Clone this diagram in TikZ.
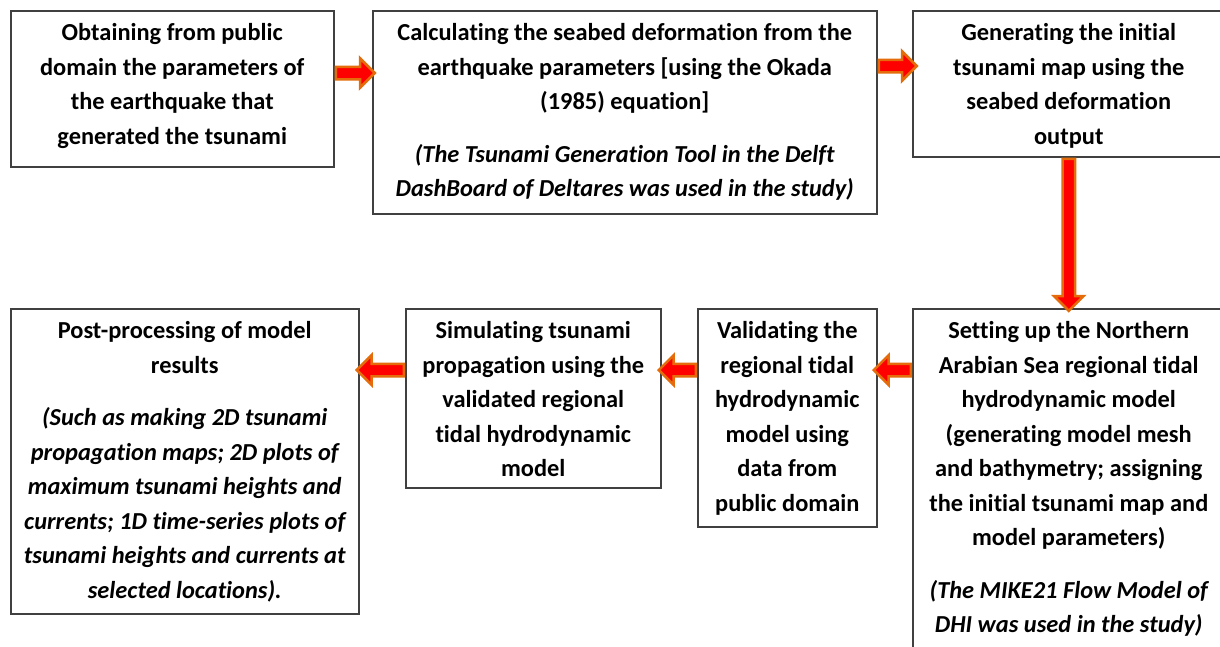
\documentclass[tikz,border=0pt]{standalone}
\usepackage{fontspec}
\setmainfont{Carlito}[Ligatures=CommonOff]
\usetikzlibrary{shapes.arrows}

\definecolor{boxgray}{HTML}{404040}
\definecolor{arroworange}{HTML}{E46C0A}

% box text, top aligned: width, outer height, lines
\newcommand{\stagetext}[3]{\parbox[c][\dimexpr#2pt-26pt\relax][t]{#1pt}{\centering #3}}

\begin{document}
\begin{tikzpicture}[x=1pt,y=-1pt,
    stage/.style={draw=boxgray, line width=1.5pt, inner xsep=0pt, inner ysep=13pt, anchor=north west, font=\fontsize{24.4}{34.5}\selectfont\bfseries},
    flowarrow/.style={single arrow, draw=arroworange, fill=red, line width=2.5pt, inner xsep=0pt, inner ysep=5pt, minimum width=27pt, single arrow head extend=8.5pt, anchor=tail}]

    \useasboundingbox (0,0) rectangle (1220,646);
    \clip (0,0) rectangle (1220,646);

    % these are the boxes
    \node[stage] (obtain) at (10,10) {\stagetext{323}{156}{Obtaining from public\\ domain the parameters of\\ the earthquake that\\ generated the tsunami}};
    \node[stage] (okada) at (372,10) {\stagetext{504}{203}{Calculating the seabed deformation from the\\ earthquake parameters [using the Okada\\ (1985) equation]\\[18pt] {\itshape (The Tsunami Generation Tool in the Delft\\ DashBoard of Deltares was used in the study)}}};
    \node[stage] (initmap) at (912,10) {\stagetext{312}{146}{Generating the initial\\ tsunami map using the\\ seabed deformation\\ output}};
    \node[stage] (setup) at (912,308) {\stagetext{312}{370}{Setting up the Northern\\ Arabian Sea regional tidal\\ hydrodynamic model\\ (generating model mesh\\ and bathymetry; assigning\\ the initial tsunami map and\\ model parameters)\\[18pt] {\itshape (The MIKE21 Flow Model of\\ DHI was used in the study)}}};
    \node[stage] (validate) at (697,308) {\stagetext{179}{218}{Validating the\\ regional tidal\\ hydrodynamic\\ model using\\ data from\\ public domain}};
    \node[stage] (simulate) at (405,308) {\stagetext{255}{179}{Simulating tsunami\\ propagation using the\\ validated regional\\ tidal hydrodynamic\\ model}};
    \node[stage] (postproc) at (10,308) {\stagetext{348}{305}{Post-processing of model\\ results\\[18pt] {\itshape (Such as making 2D tsunami\\ propagation maps; 2D plots of\\ maximum tsunami heights and\\ currents; 1D time-series plots of\\ tsunami heights and currents at\\ selected locations).}}};

    % heights of the arrows
    \coordinate (rowa) at (0,73);
    \coordinate (rowb) at (0,66);
    \coordinate (rowc) at (0,370);

    % these are the arrows
    \node[flowarrow, minimum height=39pt] (a1) at (obtain.east |- rowa) {};
    \node[flowarrow, minimum height=38pt] (a2) at (okada.east |- rowb) {};
    \node[flowarrow, minimum height=152pt, rotate=-90] (a3) at (initmap.south) {};
    \node[flowarrow, minimum height=37pt, rotate=180] (a4) at (setup.west |- rowc) {};
    \node[flowarrow, minimum height=37pt, rotate=180] (a5) at (validate.west |- rowc) {};
    \node[flowarrow, minimum height=47pt, rotate=180] (a6) at (simulate.west |- rowc) {};

\end{tikzpicture}
\end{document}
